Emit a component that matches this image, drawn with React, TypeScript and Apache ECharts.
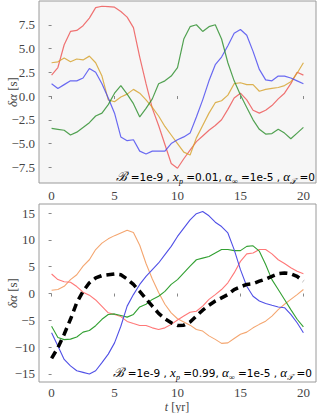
import React, { useEffect, useRef } from 'react';
import * as echarts from 'echarts';

const YEARS = [0, 0.5, 1, 1.5, 2, 2.5, 3, 3.5, 4, 4.5, 5, 5.5, 6, 6.5, 7, 7.5, 8, 8.5, 9, 9.5, 10,
  10.5, 11, 11.5, 12, 12.5, 13, 13.5, 14, 14.5, 15, 15.5, 16, 16.5, 17, 17.5, 18, 18.5, 19, 19.5, 20];

const X_TICKS = [0, 5, 10, 15, 20];
const TOP_Y_TICKS = [-7.5, -5, -2.5, 0, 2.5, 5, 7.5];
const BOTTOM_Y_TICKS = [-15, -10, -5, 0, 5, 10, 15];

// Upper panel (x_p = 0.01)
const TOP_RED = [2.2, 3.0, 5.4, 6.8, 6.9, 7.4, 8.2, 9.3, 9.45, 9.4, 9.35, 8.9, 8.3, 7.2, 4.1, 1.3, -1.3, -3.1, -5.1, -7.1, -7.6,
  -6.6, -5.7, -4.8, -4.2, -3.6, -3.1, -2.5, -1.4, -0.2, 0.3, -0.4, -1.5, -1.8, -1.5, -1.0, -0.3, 0.3, 1.3, 2.5, 2.2];
const TOP_GOLD = [3.5, 3.6, 4.0, 3.6, 3.9, 3.8, 4.2, 3.5, 2.1, -0.4, -0.6, -0.1, 0.2, 0.7, 0.3, -0.4, -1.2, -2.1, -3.2, -4.1, -5.0,
  -5.9, -6.2, -4.4, -3.1, -1.8, -0.7, -0.5, 0.1, 1.3, 1.4, 1.2, 1.2, 0.5, 0.7, 0.8, 0.9, 1.1, 1.5, 2.4, 3.5];
const TOP_BLUE = [1.3, 0.8, 1.2, 1.6, 1.6, 1.9, 2.9, 2.5, 1.3, -0.2, -1.8, -4.3, -4.7, -4.6, -5.8, -6.1, -5.8, -5.8, -5.8, -5.0, -4.6,
  -4.3, -3.9, -2.2, -0.4, 1.6, 3.3, 4.1, 5.3, 6.6, 7.0, 6.4, 4.7, 2.8, 1.7, 1.6, 2.1, 2.1, 1.9, 1.6, 1.3];
const TOP_GREEN = [-3.4, -3.5, -3.6, -4.1, -3.8, -3.3, -2.8, -2.1, -1.8, -0.9, 0.3, 1.1, 0.2, -0.8, -2.2, -1.3, -0.3, 1.3, 1.6, 2.1, 3.0,
  6.0, 7.3, 7.5, 6.8, 7.3, 7.5, 6.0, 3.5, 1.6, 0.1, -1.2, -2.5, -3.5, -4.0, -3.95, -3.5, -3.9, -4.5, -3.9, -3.3];

// Lower panel (x_p = 0.99)
const BOT_ORANGE = [0.6, 0.75, 1.35, 2.6, 3.5, 5.1, 6.3, 8.2, 9.4, 10.2, 10.8, 11.3, 11.8, 11.4, 9.0, 5.6, 2.7, 0.2, -2.0, -3.6, -4.7,
  -5.3, -5.9, -6.7, -7.0, -7.9, -8.55, -9.3, -9.2, -8.4, -7.6, -7.2, -6.4, -5.75, -5.15, -4.2, -3.0, -2.0, -1.1, -0.2, 0.75];
const BOT_RED = [3.65, 2.6, 2.2, 2.1, 1.3, 0.25, -0.3, -1.2, -2.4, -3.6, -3.9, -4.3, -5.2, -5.6, -5.95, -5.95, -6.4, -6.7, -6.4, -5.75, -4.95,
  -4.2, -3.5, -3.3, -2.35, -1.1, -0.2, 0.75, 2.0, 3.85, 6.0, 7.4, 7.55, 8.2, 8.2, 7.4, 6.3, 5.6, 4.8, 4.15, 3.7];
const BOT_GREEN = [-6.1, -8.2, -8.6, -8.5, -8.1, -7.2, -6.9, -6.0, -4.8, -3.9, -3.8, -4.1, -4.4, -3.9, -2.5, -2.0, -1.1, -0.5, 0.4, 1.7, 2.6,
  3.85, 5.1, 6.3, 6.6, 6.9, 7.55, 8.2, 8.2, 8.0, 8.0, 8.8, 8.9, 7.9, 5.4, 2.6, 0.75, -1.1, -3.0, -4.8, -6.2];
const BOT_BLUE = [-7.3, -9.8, -12.3, -13.5, -14.4, -14.7, -15.0, -14.4, -12.9, -11.3, -9.2, -6.1, -2.35, -0.2, 1.7, 3.2, 4.45, 5.7, 7.25, 8.8, 10.65,
  12.2, 13.75, 14.9, 15.3, 14.5, 13.3, 12.5, 11.3, 8.2, 4.45, 1.35, -0.5, -1.4, -1.85, -2.2, -2.5, -2.65, -3.9, -5.45, -7.3];
const BOT_MEAN = [-12.1, -10.1, -7.6, -4.8, -1.7, 0.4, 2.0, 2.9, 3.35, 3.5, 3.65, 3.5, 2.7, 1.7, 0.4, -1.0, -2.35, -3.7, -4.7, -5.45, -5.95,
  -5.9, -5.3, -4.2, -3.1, -2.2, -1.4, -0.8, -0.2, 0.75, 1.25, 1.7, 1.85, 2.3, 2.7, 3.2, 3.7, 3.85, 3.7, 3.2, 2.3];

const TOP_NOTE_XP = '0.01';
const BOT_NOTE_XP = '0.99';

const SERIF = '"Liberation Serif", serif';
const SANS = '"DejaVu Sans", sans-serif';

const pairs = (vals: number[]) => YEARS.map((t, i) => [t, vals[i]]);

const fmtMinus = (s: string) => s.replace('-', '\u2212');

function axisX(gridIndex: number, margin: number) {
  return {
    type: 'value',
    gridIndex,
    min: -1,
    max: 21,
    axisLine: { show: false },
    splitLine: { show: false },
    axisTick: { show: true, customValues: X_TICKS, length: 3, inside: false, lineStyle: { color: '#888', width: 1 } },
    axisLabel: {
      show: true,
      customValues: X_TICKS,
      fontFamily: SERIF,
      fontSize: 13,
      color: '#444',
      margin,
      formatter: (v: number) => fmtMinus(String(v)),
    },
  };
}

function axisY(gridIndex: number, min: number, max: number, ticks: number[], digits: number) {
  return {
    type: 'value',
    gridIndex,
    min,
    max,
    axisLine: { show: false },
    splitLine: { show: false },
    axisTick: { show: true, customValues: ticks, length: 3, inside: false, lineStyle: { color: '#888', width: 1 } },
    axisLabel: {
      show: true,
      customValues: ticks,
      fontFamily: SERIF,
      fontSize: 13,
      color: '#444',
      margin: 4,
      formatter: (v: number) => fmtMinus(v.toFixed(digits)),
    },
  };
}

function line(name: string, vals: number[], color: string, idx: number, width = 1.2, type: any = 'solid') {
  return {
    name,
    type: 'line',
    xAxisIndex: idx,
    yAxisIndex: idx,
    data: pairs(vals),
    showSymbol: false,
    smooth: false,
    lineStyle: { color, width, type },
    itemStyle: { color },
  };
}

const noteRich = {
  m: { fontFamily: SERIF, fontStyle: 'italic', fontSize: 13, color: '#555', lineHeight: 14, verticalAlign: 'top' },
  n: { fontFamily: SANS, fontSize: 10.5, color: '#333', lineHeight: 14, verticalAlign: 'top', padding: [1, 0, 0, 0] },
  s: { fontFamily: SERIF, fontStyle: 'italic', fontSize: 8, color: '#555', lineHeight: 9, verticalAlign: 'top', padding: [7, 0, 0, 0] },
};

const note = (xp: string) =>
  `{m|\u212C}{n| =1e-9 , }{m|x}{s|p}{n| =${xp}, }{m|\u03B1}{s|\u221E}{n| =1e-5 , }{m|\u03B1}{s|\uD835\uDCAF}{n| =0}`;

const labelRich = {
  i: { fontFamily: SERIF, fontStyle: 'italic', fontSize: 13, fill: '#444' },
  r: { fontFamily: SERIF, fontSize: 13, fill: '#444' },
};
const xLabelRich = {
  i: { fontFamily: SERIF, fontStyle: 'italic', fontSize: 12, fill: '#444' },
  r: { fontFamily: SERIF, fontSize: 12, fill: '#444' },
};

const option: any = {
  animation: false,
  backgroundColor: '#ffffff',
  grid: [
    { left: 39, top: 1, width: 277, height: 182, show: true, borderColor: '#9a9a9a', borderWidth: 1, backgroundColor: '#f6f6f6' },
    { left: 39, top: 204, width: 277, height: 178, show: true, borderColor: '#9a9a9a', borderWidth: 1, backgroundColor: '#ffffff' },
  ],
  xAxis: [axisX(0, 6), axisX(1, 4)],
  yAxis: [axisY(0, -9.15, 10.0, TOP_Y_TICKS, 1), axisY(1, -16.5, 16.7, BOTTOM_Y_TICKS, 0)],
  series: [
    line('red', TOP_RED, 'rgba(238,80,80,0.8)', 0),
    line('gold', TOP_GOLD, 'rgba(214,160,40,0.8)', 0),
    line('blue', TOP_BLUE, 'rgba(70,70,240,0.8)', 0),
    line('green', TOP_GREEN, 'rgba(40,140,40,0.8)', 0),
    line('orange', BOT_ORANGE, 'rgba(244,166,112,1)', 1, 1.1),
    line('red2', BOT_RED, 'rgba(255,120,120,1)', 1, 1.1),
    line('green2', BOT_GREEN, 'rgba(50,160,50,1)', 1, 1.1),
    line('blue2', BOT_BLUE, 'rgba(80,80,230,1)', 1, 1.1),
    line('mean', BOT_MEAN, '#000000', 1, 3.5, [8, 5]),
  ],
  graphic: [
    {
      type: 'text', x: 12, y: 92, rotation: Math.PI / 2,
      style: { text: '{i|\u03B4\u03B1} {r|[s]}', align: 'center', verticalAlign: 'middle', rich: labelRich },
    },
    {
      type: 'text', x: 12, y: 293, rotation: Math.PI / 2,
      style: { text: '{i|\u03B4\u03B1} {r|[s]}', align: 'center', verticalAlign: 'middle', rich: labelRich },
    },
    {
      type: 'text', x: 177, y: 406.5,
      style: { text: '{i|t} {r|[yr]}', align: 'center', verticalAlign: 'middle', rich: xLabelRich },
    },
    {
      type: 'text', x: 315, y: 170, z: 10,
      style: { text: note(TOP_NOTE_XP), align: 'right', verticalAlign: 'top', rich: noteRich },
    },
    {
      type: 'text', x: 312, y: 366, z: 10,
      style: { text: note(BOT_NOTE_XP), align: 'right', verticalAlign: 'top', rich: noteRich },
    },
  ],
};

export default function App() {
  const ref = useRef<HTMLDivElement>(null);
  useEffect(() => {
    if (!ref.current) return;
    const chart = echarts.init(ref.current, null, { renderer: 'svg' });
    chart.setOption(option);
    return () => chart.dispose();
  }, []);
  return <div ref={ref} style={{ position: 'fixed', left: 0, top: 0, width: 318, height: 413 }} />;
}
